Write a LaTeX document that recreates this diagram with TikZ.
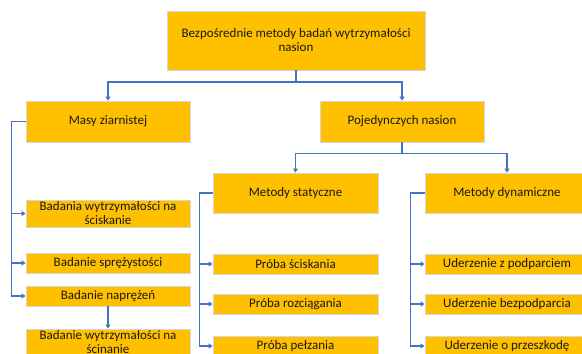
\documentclass[tikz,border=0pt]{standalone}
\usepackage{fontspec}
\setmainfont{Carlito}
\usetikzlibrary{arrows.meta}
\definecolor{boxfill}{HTML}{FFC000}
\definecolor{boxline}{HTML}{D6D6D6}
\definecolor{conn}{HTML}{4472C4}
\begin{document}
\begin{tikzpicture}[x=1pt,y=-1pt,
  box/.style={draw=boxline,line width=0.9pt,fill=boxfill,inner sep=0pt,
    minimum width=164pt,align=center,text=black!90,
    font=\fontsize{13}{14}\selectfont},
  link/.style={draw=conn,line width=1.1pt,-{Triangle[width=5pt,length=4pt]}}]
\useasboundingbox (0,0) rectangle (582,354);
\clip (0,0) rectangle (582,354);
% boxes
\node[box,minimum width=258pt,minimum height=59pt] (top) at (296,40.5)
  {Bezpośrednie metody badań wytrzymałości\\nasion};
\node[box,minimum height=41pt] (masy) at (108,121.5) {Masy ziarnistej};
\node[box,minimum height=41pt] (poj) at (402,121.5) {Pojedynczych nasion};
\node[box,minimum width=165pt,minimum height=40pt] (stat) at (295.5,193) {Metody statyczne};
\node[box,minimum height=40pt] (dyn) at (507,193) {Metody dynamiczne};
\node[box,minimum height=27pt] (l1) at (108,213.5) {Badania wytrzymałości na\\ściskanie};
\node[box,minimum height=20pt] (l2) at (108,263) {Badanie sprężystości};
\node[box,minimum height=20pt] (l3) at (108,296) {Badanie naprężeń};
\node[box,minimum height=27pt] (l4) at (108,342.5) {Badanie wytrzymałości na\\ścinanie};
\node[box,minimum width=165pt,minimum height=20pt] (s1) at (295.5,264) {Próba ściskania};
\node[box,minimum width=165pt,minimum height=20pt] (s2) at (295.5,304) {Próba rozciągania};
\node[box,minimum width=165pt,minimum height=20pt] (s3) at (295.5,346) {Próba pełzania};
\node[box,minimum height=20pt] (d1) at (507,264) {Uderzenie z podparciem};
\node[box,minimum height=20pt] (d2) at (507,304) {Uderzenie bezpodparcia};
\node[box,minimum height=20pt] (d3) at (507,346) {Uderzenie o przeszkodę};
% connectors
\draw[link] (top.south) -- ++(0,11.5) -| (masy.north);
\draw[link] (top.south) -- ++(0,11.5) -| (poj.north);
\draw[link] (poj.south) -- ++(0,11) -| (stat.north);
\draw[link] (poj.south) -- ++(0,11) -| (dyn.north);
\draw[link] (masy.west) -- ++(-14,0) |- (l1.west);
\draw[link] (masy.west) -- ++(-14,0) |- (l2.west);
\draw[link] (masy.west) -- ++(-14,0) |- (l3.west);
\draw[link] (l3.south) -- (l4.north);
\draw[link] (stat.west) -- ++(-13,0) |- (s1.west);
\draw[link] (stat.west) -- ++(-13,0) |- (s2.west);
\draw[link] (stat.west) -- ++(-13,0) |- (s3.west);
\draw[link] (dyn.west) -- ++(-14,0) |- (d1.west);
\draw[link] (dyn.west) -- ++(-14,0) |- (d2.west);
\draw[link] (dyn.west) -- ++(-14,0) |- (d3.west);
\end{tikzpicture}
\end{document}
